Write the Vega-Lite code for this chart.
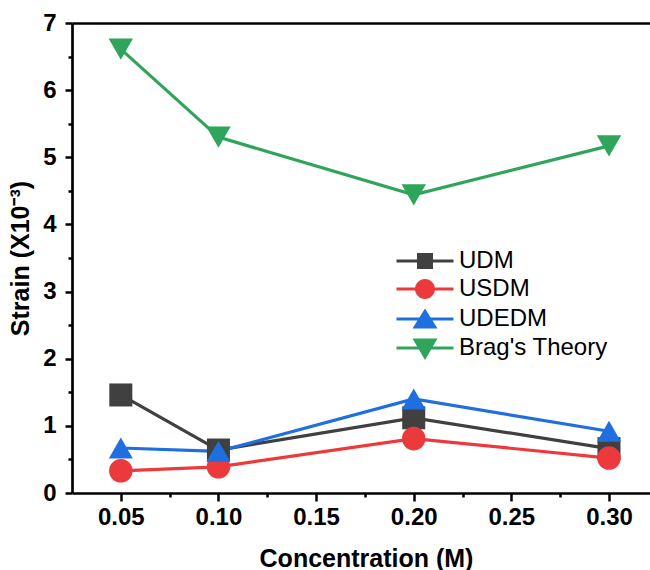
{
  "$schema": "https://vega.github.io/schema/vega-lite/v6.json",
  "width": 578,
  "height": 470,
  "autosize": {"type": "none"},
  "padding": {"left": 72, "top": 23, "right": 0, "bottom": 77},
  "background": "white",
  "config": {
    "font": "Liberation Sans",
    "view": {"stroke": null},
    "axis": {"grid": false, "domainColor": "black", "tickColor": "black", "labelColor": "black", "titleColor": "black"}
  },
  "data": {
    "values": [
      {"series": "UDM", "conc": 0.05, "strain": 1.46},
      {"series": "UDM", "conc": 0.10, "strain": 0.64},
      {"series": "UDM", "conc": 0.20, "strain": 1.12},
      {"series": "UDM", "conc": 0.30, "strain": 0.66},
      {"series": "USDM", "conc": 0.05, "strain": 0.33},
      {"series": "USDM", "conc": 0.10, "strain": 0.39},
      {"series": "USDM", "conc": 0.20, "strain": 0.81},
      {"series": "USDM", "conc": 0.30, "strain": 0.52},
      {"series": "UDEDM", "conc": 0.05, "strain": 0.67},
      {"series": "UDEDM", "conc": 0.10, "strain": 0.62},
      {"series": "UDEDM", "conc": 0.20, "strain": 1.40},
      {"series": "UDEDM", "conc": 0.30, "strain": 0.92},
      {"series": "Brag's Theory", "conc": 0.05, "strain": 6.61},
      {"series": "Brag's Theory", "conc": 0.10, "strain": 5.30},
      {"series": "Brag's Theory", "conc": 0.20, "strain": 4.44},
      {"series": "Brag's Theory", "conc": 0.30, "strain": 5.17}
    ]
  },
  "layer": [
    {
      "mark": {"type": "line", "strokeWidth": 3.2},
      "encoding": {
        "x": {
          "field": "conc", "type": "quantitative",
          "scale": {"domain": [0.025, 0.321], "nice": false, "zero": false},
          "axis": {
            "orient": "bottom",
            "values": [0.05, 0.075, 0.1, 0.125, 0.15, 0.175, 0.2, 0.225, 0.25, 0.275, 0.3],
            "labelExpr": "abs(datum.value * 20 - round(datum.value * 20)) < 0.001 ? format(datum.value, '.2f') : ''",
            "tickSize": {"condition": {"test": "abs(datum.value * 20 - round(datum.value * 20)) < 0.001", "value": 8}, "value": 4},
            "tickWidth": 2.5,
            "domainWidth": 2.7,
            "labelFontSize": 24,
            "labelFontWeight": "bold",
            "labelPadding": 4,
            "labelFlush": false,
            "labelOverlap": false,
            "title": "Concentration (M)",
            "titleFontSize": 25,
            "titleFontWeight": "bold",
            "titlePadding": 17,
            "titleX": 294
          }
        },
        "y": {
          "field": "strain", "type": "quantitative",
          "scale": {"domain": [0, 7], "nice": false},
          "axis": {
            "orient": "left",
            "values": [0, 0.5, 1, 1.5, 2, 2.5, 3, 3.5, 4, 4.5, 5, 5.5, 6, 6.5, 7],
            "labelExpr": "datum.value % 1 === 0 ? format(datum.value, 'd') : ''",
            "tickSize": {"condition": {"test": "datum.value % 1 === 0", "value": 7}, "value": 4},
            "tickWidth": 2.5,
            "domainWidth": 2.7,
            "labelFontSize": 24,
            "labelFontWeight": "bold",
            "labelPadding": 9,
            "labelFlush": false,
            "labelOverlap": false,
            "title": "Strain (X10⁻³)",
            "titleFontSize": 25,
            "titleFontWeight": "bold",
            "titlePadding": 9
          }
        },
        "color": {
          "field": "series", "type": "nominal",
          "scale": {"domain": ["UDM", "USDM", "UDEDM", "Brag's Theory"], "range": ["#404040", "#ec3a3c", "#1f6fe0", "#2fa55b"]},
          "legend": null
        }
      }
    },
    {
      "mark": {"type": "point", "filled": true, "opacity": 1},
      "encoding": {
        "x": {"field": "conc", "type": "quantitative", "axis": null},
        "y": {
          "field": "strain", "type": "quantitative",
          "axis": {
            "orient": "left",
            "values": [0, 0.5, 1, 1.5, 2, 2.5, 3, 3.5, 4, 4.5, 5, 5.5, 6, 6.5, 7],
            "labelExpr": "datum.value % 1 === 0 ? format(datum.value, 'd') : ''",
            "tickSize": {"condition": {"test": "datum.value % 1 === 0", "value": 7}, "value": 4},
            "tickWidth": 2.5,
            "domainWidth": 2.7,
            "labelFontSize": 24,
            "labelFontWeight": "bold",
            "labelPadding": 9,
            "labelFlush": false,
            "labelOverlap": false,
            "title": "Strain (X10⁻³)",
            "titleFontSize": 25,
            "titleFontWeight": "bold",
            "titlePadding": 9
          }
        },
        "color": {
          "field": "series", "type": "nominal",
          "scale": {"domain": ["UDM", "USDM", "UDEDM", "Brag's Theory"], "range": ["#404040", "#ec3a3c", "#1f6fe0", "#2fa55b"]},
          "legend": null
        },
        "shape": {
          "field": "series", "type": "nominal",
          "scale": {"domain": ["UDM", "USDM", "UDEDM", "Brag's Theory"], "range": ["square", "circle", "triangle-up", "triangle-down"]},
          "legend": null
        },
        "size": {
          "field": "series", "type": "nominal",
          "scale": {"domain": ["UDM", "USDM", "UDEDM", "Brag's Theory"], "range": [530, 600, 760, 800]},
          "legend": null
        }
      }
    },
    {
      "transform": [{"filter": "false"}],
      "mark": {"type": "point", "filled": true},
      "encoding": {
        "x": {
          "field": "conc", "type": "quantitative",
          "axis": {"orient": "top", "labels": false, "ticks": false, "title": null, "domainWidth": 2.7}
        },
        "y": {
          "field": "strain", "type": "quantitative",
          "axis": {
            "orient": "left",
            "values": [0, 0.5, 1, 1.5, 2, 2.5, 3, 3.5, 4, 4.5, 5, 5.5, 6, 6.5, 7],
            "labelExpr": "datum.value % 1 === 0 ? format(datum.value, 'd') : ''",
            "tickSize": {"condition": {"test": "datum.value % 1 === 0", "value": 7}, "value": 4},
            "tickWidth": 2.5,
            "domainWidth": 2.7,
            "labelFontSize": 24,
            "labelFontWeight": "bold",
            "labelPadding": 9,
            "labelFlush": false,
            "labelOverlap": false,
            "title": "Strain (X10⁻³)",
            "titleFontSize": 25,
            "titleFontWeight": "bold",
            "titlePadding": 9
          }
        },
        "color": {
          "field": "series", "type": "nominal",
          "scale": {"domain": ["UDM", "USDM", "UDEDM", "Brag's Theory"], "range": ["#404040", "#ec3a3c", "#1f6fe0", "#2fa55b"]},
          "legend": {
            "title": null, "orient": "none", "legendX": 341, "legendY": 226,
            "symbolSize": 400, "labelFontSize": 24, "labelOffset": 22, "rowPadding": 3,
            "labelColor": "black", "symbolOpacity": 1
          }
        },
        "shape": {
          "field": "series", "type": "nominal",
          "scale": {
            "domain": ["UDM", "USDM", "UDEDM", "Brag's Theory"],
            "range": [
              "M-2.85,-0.15H2.85V0.15H-2.85ZM-0.8,-0.8H0.8V0.8H-0.8Z",
              "M-2.85,-0.15H2.85V0.15H-2.85ZM-1,0A1,1,0,1,1,1,0A1,1,0,1,1,-1,0Z",
              "M-2.85,-0.15H2.85V0.15H-2.85ZM0,-1.05L1.25,0.95H-1.25Z",
              "M-2.85,-0.15H2.85V0.15H-2.85ZM-1.25,-0.95H1.25L0,1.2Z"
            ]
          },
          "legend": {
            "title": null, "orient": "none", "legendX": 341, "legendY": 226,
            "symbolSize": 400, "labelFontSize": 24, "labelOffset": 22, "rowPadding": 3,
            "labelColor": "black", "symbolOpacity": 1
          }
        }
      }
    }
  ],
  "resolve": {
    "scale": {"shape": "independent", "color": "independent"},
    "legend": {"shape": "independent", "color": "independent"},
    "axis": {"x": "independent"}
  }
}
